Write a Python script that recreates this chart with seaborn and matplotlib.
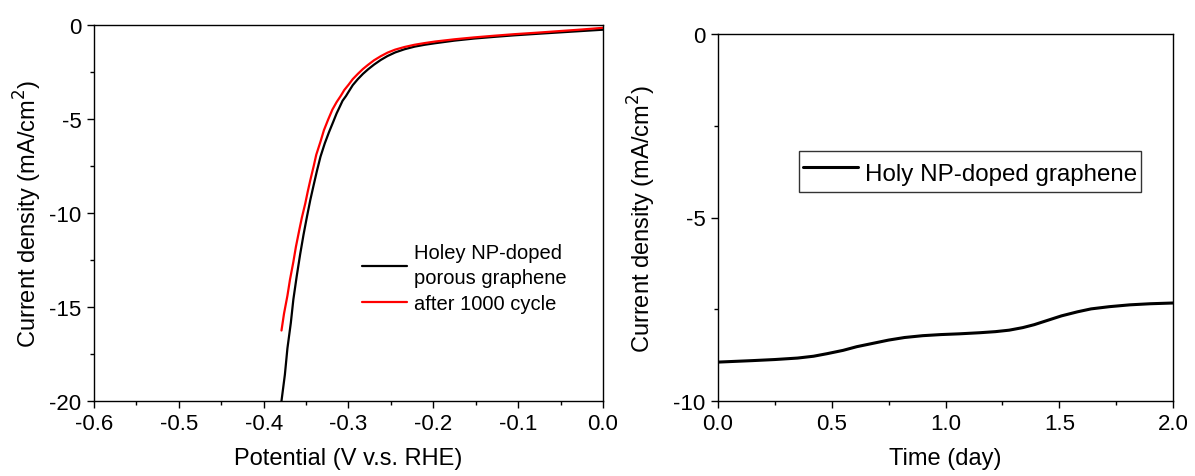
import matplotlib
matplotlib.use("Agg")
import matplotlib.pyplot as plt
import seaborn as sns
import pandas as pd
from matplotlib.ticker import MultipleLocator, FuncFormatter

# ---- data ----
pot_black = [-0.379, -0.375, -0.372, -0.368, -0.365, -0.361, -0.357, -0.353, -0.349, -0.345, -0.341,
             -0.337, -0.333, -0.328, -0.323, -0.318, -0.314, -0.310, -0.307, -0.303, -0.300, -0.295,
             -0.289, -0.283, -0.277, -0.270, -0.262, -0.254, -0.245, -0.234, -0.222, -0.210, -0.198,
             -0.175, -0.152, -0.128, -0.105, -0.078, -0.050, -0.025, 0.0]
cur_black = [-20.0, -18.6, -17.2, -15.85, -14.6, -13.35, -12.2, -11.15, -10.2, -9.3, -8.5,
             -7.72, -7.0, -6.3, -5.7, -5.15, -4.7, -4.32, -4.03, -3.78, -3.56, -3.2,
             -2.88, -2.6, -2.36, -2.11, -1.86, -1.65, -1.46, -1.29, -1.15, -1.05, -0.97,
             -0.83, -0.72, -0.63, -0.55, -0.47, -0.39, -0.32, -0.25]
pot_red = [-0.379, -0.376, -0.372, -0.369, -0.365, -0.362, -0.358, -0.355, -0.351, -0.348, -0.345,
           -0.341, -0.338, -0.333, -0.329, -0.324, -0.319, -0.314, -0.309, -0.305, -0.300, -0.295,
           -0.289, -0.283, -0.277, -0.270, -0.262, -0.254, -0.245, -0.234, -0.222, -0.210, -0.198,
           -0.175, -0.152, -0.128, -0.105, -0.078, -0.050, -0.025, 0.0]
cur_red = [-16.25, -15.35, -14.4, -13.55, -12.6, -11.8, -10.9, -10.25, -9.5, -8.85, -8.25,
           -7.5, -6.9, -6.2, -5.6, -5.03, -4.5, -4.1, -3.76, -3.46, -3.18, -2.88,
           -2.6, -2.34, -2.12, -1.88, -1.66, -1.47, -1.31, -1.17, -1.05, -0.96, -0.88,
           -0.76, -0.66, -0.57, -0.49, -0.41, -0.32, -0.24, -0.15]

time_day = [0.0, 0.075, 0.15, 0.25, 0.35, 0.42, 0.48, 0.55, 0.61, 0.68, 0.75, 0.82, 0.9, 0.98, 1.06, 1.15,
            1.22, 1.28, 1.34, 1.39, 1.45, 1.51, 1.58, 1.64, 1.72, 1.81, 1.9, 2.0]
cur_time = [-8.94, -8.92, -8.9, -8.87, -8.83, -8.78, -8.71, -8.62, -8.52, -8.43, -8.34, -8.27, -8.22, -8.19, -8.17, -8.14,
            -8.11, -8.07, -8.0, -7.92, -7.8, -7.68, -7.57, -7.49, -7.43, -7.38, -7.35, -7.33]

label_black = "Holey NP-doped\nporous graphene"
label_red = "after 1000 cycle"
label_time = "Holy NP-doped graphene"

sns.set_theme(style="ticks")
plt.rcParams['font.family'] = ['Liberation Sans', 'DejaVu Sans']
plt.rcParams['axes.linewidth'] = 1.0
plt.rcParams['axes.edgecolor'] = 'black'
plt.rcParams['text.color'] = 'black'
plt.rcParams['axes.labelcolor'] = 'black'
plt.rcParams['xtick.color'] = 'black'
plt.rcParams['ytick.color'] = 'black'
label_font = dict(size=17, color='black')

fig = plt.figure(figsize=(11.95, 4.77), dpi=100)
ax1 = fig.add_axes([94/1195, 1 - 402/477, (603-94)/1195, (402-26)/477])
ax2 = fig.add_axes([718/1195, 1 - 402/477, (1173-718)/1195, (402-35)/477])

df_b = pd.DataFrame({"x": pot_black, "y": cur_black})
df_r = pd.DataFrame({"x": pot_red, "y": cur_red})
sns.lineplot(data=df_b, x="x", y="y", ax=ax1, color="black", lw=1.6, label=label_black, sort=False)
sns.lineplot(data=df_r, x="x", y="y", ax=ax1, color="#ff0000", lw=1.6, label=label_red, sort=False)
ax1.set_xlim(-0.6, 0.0)
ax1.set_ylim(-20, 0)
ax1.xaxis.set_major_locator(MultipleLocator(0.1))
ax1.xaxis.set_minor_locator(MultipleLocator(0.05))
ax1.yaxis.set_major_locator(MultipleLocator(5))
ax1.yaxis.set_minor_locator(MultipleLocator(2.5))
ax1.xaxis.set_major_formatter(FuncFormatter(lambda v, p: f"{v:.1f}"))
ax1.yaxis.set_major_formatter(FuncFormatter(lambda v, p: f"{v:.0f}"))
ax1.set_xlabel("Potential (V v.s. RHE)", fontdict=label_font, labelpad=9)
ax1.set_ylabel("Current density (mA/cm$^2$)", fontdict=label_font, labelpad=4)
leg1 = ax1.legend(loc="upper left", bbox_to_anchor=(0.527, 0.42), frameon=False, fontsize=14.5,
                  handlelength=2.2, handletextpad=0.35, labelspacing=0.35, borderpad=0, borderaxespad=0)
leg1.get_texts()[0].set_linespacing(1.4)
for t in leg1.get_texts():
    t.set_color("black")

df_t = pd.DataFrame({"x": time_day, "y": cur_time})
sns.lineplot(data=df_t, x="x", y="y", ax=ax2, color="black", lw=2.2, label=label_time)
ax2.set_xlim(0, 2.0)
ax2.set_ylim(-10, 0)
ax2.xaxis.set_major_locator(MultipleLocator(0.5))
ax2.xaxis.set_minor_locator(MultipleLocator(0.25))
ax2.yaxis.set_major_locator(MultipleLocator(5))
ax2.yaxis.set_minor_locator(MultipleLocator(2.5))
ax2.xaxis.set_major_formatter(FuncFormatter(lambda v, p: f"{v:.1f}"))
ax2.yaxis.set_major_formatter(FuncFormatter(lambda v, p: f"{v:.0f}"))
ax2.set_xlabel("Time (day)", fontdict=label_font, labelpad=9)
ax2.set_ylabel("Current density (mA/cm$^2$)", fontdict=label_font, labelpad=11)
leg = ax2.legend(loc="upper left", bbox_to_anchor=((799-718)/455, (402-152)/367), frameon=True, fontsize=17.4,
                 handlelength=2.3, handletextpad=0.3, borderpad=0.15, handleheight=1.8,
                 fancybox=False, borderaxespad=0)
leg.get_frame().set_edgecolor("black")
leg.get_frame().set_linewidth(1.0)
for t in leg.get_texts():
    t.set_color("black")

for ax in (ax1, ax2):
    for s in ax.spines.values():
        s.set_visible(True)
        s.set_color("black")
    ax.tick_params(which="major", direction="out", length=5, width=1, labelsize=16, colors="black", pad=4)
    ax.tick_params(which="minor", direction="out", length=3, width=1)
    ax.tick_params(top=False, right=False)

fig.savefig("out.png", dpi=100)
